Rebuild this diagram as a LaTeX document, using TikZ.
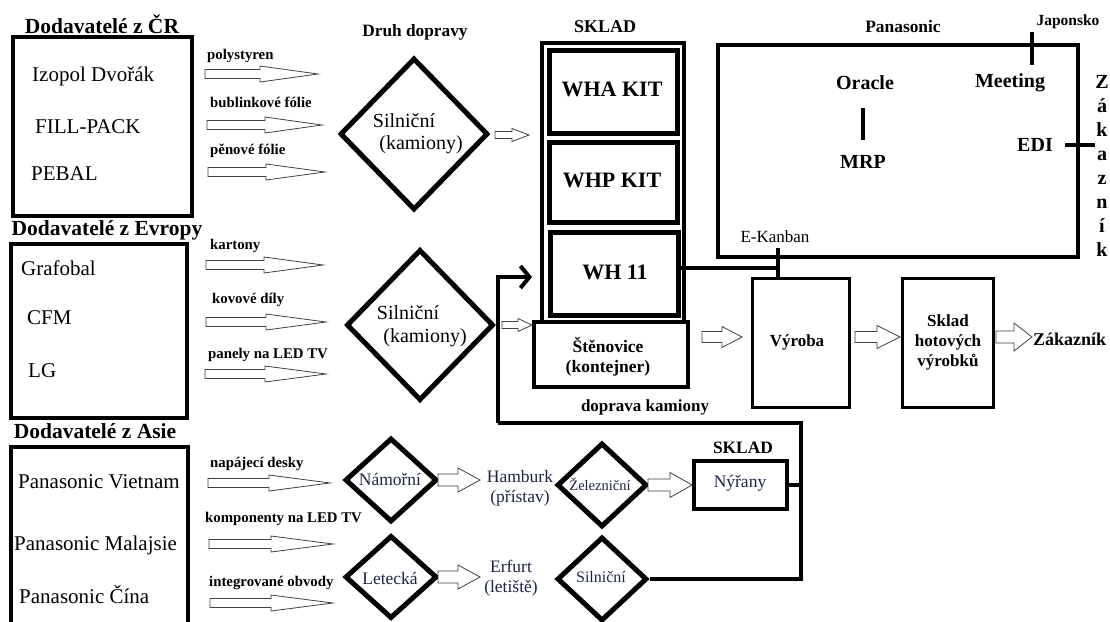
\documentclass[tikz,border=0pt]{standalone}
\usepackage{fontspec}
\setmainfont{Liberation Serif}
\usetikzlibrary{shapes.geometric,arrows.meta}
\newcommand\fsz[2]{\fontsize{#1}{#2}\selectfont}
\definecolor{navy}{RGB}{28,37,70}
% hollow block arrow: x0, xhead, x1, y, shaft half-height, head half-height
\newcommand\hollowarrow[6]{%
  \draw[harrow] (#1,#4-#5) -- (#2,#4-#5) -- (#2,#4-#6) -- (#3,#4) -- (#2,#4+#6) -- (#2,#4+#5) -- (#1,#4+#5) -- cycle;}
\begin{document}
\begin{tikzpicture}[x=1pt,y=-1pt,
  bx/.style={draw, rectangle, inner sep=0pt, fill=white},
  dia/.style={draw, diamond, line width=5pt, inner sep=0pt, fill=white},
  hdr/.style={font=\bfseries\fsz{21.5}{24}, anchor=base, inner sep=0pt},
  sname/.style={font=\fsz{21}{24}, anchor=base west, inner sep=0pt},
  alab/.style={font=\bfseries\fsz{14.8}{16}, anchor=base west, inner sep=0pt},
  blab/.style={font=\bfseries\fsz{17}{20}, inner sep=0pt, align=center},
  kit/.style={font=\bfseries\fsz{22}{24}, inner sep=0pt},
  pana/.style={font=\bfseries\fsz{20}{22}, inner sep=0pt},
  dtext/.style={font=\fsz{20}{22}, inner sep=0pt},
  btext/.style={font=\fsz{17.5}{20}, inner sep=0pt, text=navy, align=center},
  harrow/.style={draw=black!75, line width=0.8pt, fill=white},
  conn/.style={line width=4pt}]
\clip (0,0) rectangle (1110,621);
\fill[white] (0,0) rectangle (1110,621);

% ---------------- supplier headers and boxes
\node[hdr] (hcr) at (102,33) {Dodavatelé z ČR};
\node[hdr] (heu) at (107,235) {Dodavatelé z Evropy};
\node[hdr] (has) at (95,438) {Dodavatelé z Asie};

\node[bx, line width=4.5pt, minimum width=179pt, minimum height=179pt] (cr) at (102.5,126.5) {};
\node[bx, line width=4.5pt, minimum width=176pt, minimum height=174pt] (eu) at (99,331) {};
\node[bx, line width=4.5pt, minimum width=177pt, minimum height=203pt] (as) at (99.5,548.5) {};

\node[sname] (s1) at (32,81) {Izopol Dvořák};
\node[sname] (s2) at (35,133) {FILL-PACK};
\node[sname] (s3) at (31,180) {PEBAL};
\node[sname] (s4) at (21,275) {Grafobal};
\node[sname] (s5) at (27,324) {CFM};
\node[sname] (s6) at (28,377) {LG};
\node[sname] (s7) at (18,488) {Panasonic Vietnam};
\node[sname] (s8) at (14,550) {Panasonic Malajsie};
\node[sname] (s9) at (19,603) {Panasonic Čína};

% ---------------- material labels and arrows
\node[alab] (m1) at (207,59) {polystyren};
\node[alab] (m2) at (210,107) {bublinkové fólie};
\node[alab] (m3) at (210,154) {pěnové fólie};
\node[alab] (m4) at (210,249) {kartony};
\node[alab] (m5) at (212,303) {kovové díly};
\node[alab] (m6) at (208,358) {panely na LED TV};
\node[alab] (m7) at (210,467) {napájecí desky};
\node[alab] (m8) at (205,522) {komponenty na LED TV};
\node[alab] (m9) at (209,586) {integrované obvody};

\hollowarrow{205}{260}{318}{74}{4.5}{8}
\hollowarrow{207}{265}{322}{125}{4.5}{8}
\hollowarrow{208}{266}{325}{172}{4.5}{8}
\hollowarrow{206}{264}{323}{265}{4.5}{8}
\hollowarrow{206}{266}{326}{322}{4.5}{8}
\hollowarrow{205}{265}{326}{374}{4.5}{8}
\hollowarrow{208}{269}{330}{483}{4.5}{8}
\hollowarrow{209}{271}{333}{544}{4.5}{8}
\hollowarrow{210}{271}{333}{603}{4.5}{8}

% ---------------- road transport diamonds
\node[font=\bfseries\fsz{17.3}{19}, inner sep=0pt] (druh) at (415,32) {Druh dopravy};
\node[dia, minimum width=148pt, minimum height=152pt] (d1) at (414,134) {};
\node[dtext] (d1a) at (404,121) {Silniční};
\node[dtext] (d1b) at (421,145) {(kamiony)};
\node[dia, minimum width=147pt, minimum height=151pt] (d2) at (420,325) {};
\node[dtext] (d2a) at (408,313) {Silniční};
\node[dtext] (d2b) at (425,338) {(kamiony)};

\hollowarrow{495}{512}{529}{135}{3.5}{6.5}
\hollowarrow{502}{518}{532}{325}{3.5}{6.5}

% ---------------- loop connector (bottom road transport -> WH 11)
\coordinate (loopx) at (801,423);
\coordinate (lc) at (498,423);
\coordinate (lt) at (498,277);
\coordinate (wtip) at (532,277);

% ---------------- SKLAD
\node[font=\bfseries\fsz{18}{20}, inner sep=0pt] (sklad) at (605,27) {SKLAD};
\node[bx, line width=3.5pt, minimum width=142pt, minimum height=279pt] (sk) at (613,182.5) {};
\node[bx, line width=5pt, minimum width=128pt, minimum height=83pt] (wha) at (613,91.5) {};
\node[kit] at (612,89) {WHA KIT};
\node[bx, line width=5pt, minimum width=128pt, minimum height=80pt] (whp) at (613,182) {};
\node[kit] at (612,180) {WHP KIT};
\node[bx, line width=5pt, minimum width=128pt, minimum height=83pt] (wh11) at (614,273.5) {};
\node[kit] at (615,272) {WH 11};
\node[bx, line width=4.5pt, minimum width=154pt, minimum height=65pt] (sten) at (611,354.5) {};
\node[blab, font=\bfseries\fsz{17.5}{20}] at (608,357) {Štěnovice\\(kontejner)};
\node[blab] (dk) at (645,407) {doprava kamiony};

\draw[conn, -{Straight Barb[length=9pt,width=22pt]}] (lc) -- (lt) -- (wtip);

% ---------------- Panasonic
\node[bx, line width=4pt, minimum width=360pt, minimum height=212pt] (pan) at (898,151) {};
\node[font=\bfseries\fsz{17.4}{19}, inner sep=0pt] (panl) at (903,27) {Panasonic};
\node[font=\bfseries\fsz{15.5}{18}, inner sep=0pt] (jap) at (1068,22) {Japonsko};
\coordinate (j1) at (1032,32); \coordinate (j2) at (1032,65);
\draw[conn] (j1) -- (j2);
\node[pana] (orc) at (865,83) {Oracle};
\node[pana] (meet) at (1010,83) {Meeting};
\node[pana] (mrp) at (863,162) {MRP};
\coordinate (o1) at (863,108); \coordinate (o2) at (863,140);
\draw[conn] (o1) -- (o2);
\node[pana] (edi) at (1035,145) {EDI};
\coordinate (e1) at (1065,145); \coordinate (e2) at (1095,145);
\draw[conn] (e1) -- (e2);
\node[font=\bfseries\fontsize{20}{24}\selectfont, align=center, inner sep=0pt] (zak) at (1102,166) {Z\\á\\k\\a\\z\\n\\í\\k};
\node[font=\fsz{17}{19}, inner sep=0pt] (ekan) at (775,237) {E-Kanban};

% ---------------- production
\node[bx, line width=3pt, minimum width=97pt, minimum height=129pt] (vyr) at (800.5,342.5) {};
\node[blab] at (797,342) {Výroba};
\node[bx, line width=3pt, minimum width=91pt, minimum height=129pt] (shv) at (947.5,342.5) {};
\node[blab, font=\bfseries\fontsize{17}{20}\selectfont] at (948,342) {Sklad\\hotových\\výrobků};
\node[blab, anchor=west, font=\bfseries\fsz{18}{20}] (zakh) at (1033,339) {Zákazník};

\coordinate (kan) at (778,268);
\coordinate (ek) at (778,248);
\draw[conn] (wh11.east |- kan) -- (kan);
\draw[conn] (ek) -- (vyr.north -| ek);

\hollowarrow{702}{722}{742}{337}{5.5}{10.5}
\hollowarrow{855}{877}{900}{337}{5.5}{11.5}
\hollowarrow{996}{1014}{1032}{337}{6}{14}

% ---------------- Asian transport
\node[dia, minimum width=92pt, minimum height=84pt] (nam) at (391,480) {};
\node[btext] at (390,479) {Námořní};
\node[dia, minimum width=92pt, minimum height=83pt] (let) at (391,577) {};
\node[btext] at (390,578) {Letecká};
\node[btext] (ham) at (520,488) {Hamburk\\(přístav)};
\node[btext] (erf) at (511,578) {Erfurt\\(letiště)};
\hollowarrow{438}{458}{480}{480}{6}{12}
\hollowarrow{438}{458}{480}{577}{6}{12}
\node[dia, minimum width=90pt, minimum height=84pt] (zel) at (602,485) {};
\node[btext, font=\fsz{14.5}{16}] at (600,484) {Železniční};
\node[dia, minimum width=90pt, minimum height=84pt] (sil3) at (602,579) {};
\node[btext, font=\fsz{16}{18}] at (601,577) {Silniční};
\hollowarrow{648}{670}{692}{485}{6}{12.5}
\node[font=\bfseries\fsz{17.4}{19}, inner sep=0pt] (sk2) at (743,448) {SKLAD};
\node[bx, line width=4pt, minimum width=93pt, minimum height=48pt] (nyr) at (740.5,485) {};
\node[btext] at (740,483) {Nýřany};

\draw[conn] (sil3.east) -- (sil3.east -| loopx) -- (loopx) -- (lc);
\draw[conn] (nyr.east) -- (nyr.east -| loopx);
\end{tikzpicture}
\end{document}
